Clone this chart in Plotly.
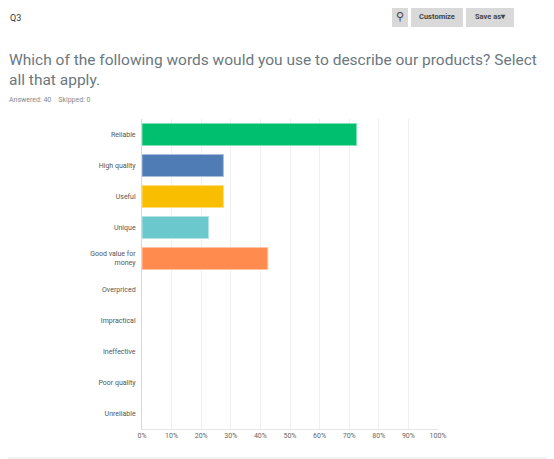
import plotly.graph_objects as go

categories = ["Reliable", "High quality", "Useful", "Unique", "Good value for<br>money",
              "Overpriced", "Impractical", "Ineffective", "Poor quality", "Unreliable"]
values = [72.5, 27.5, 27.5, 22.5, 42.5, 0, 0, 0, 0, 0]
colors = ["#00bf6f", "#507cb6", "#f9be00", "#6bc8cd", "#ff8b4f",
          "#00bf6f", "#507cb6", "#f9be00", "#6bc8cd", "#ff8b4f"]
borders = ["#7fdfb7", "#a7bdda", "#fcde7f", "#b5e3e6", "#ffc5a7",
           "#7fdfb7", "#a7bdda", "#fcde7f", "#b5e3e6", "#ffc5a7"]
tick_vals = list(range(0, 101, 10))
tick_text = [f"{v}%" for v in tick_vals]

fig = go.Figure(go.Bar(
    x=values, y=categories, orientation="h",
    marker=dict(color=colors, line=dict(color=borders, width=[1 if v > 0 else 0 for v in values])),
    hoverinfo="x+y",
))

F = "Roboto, Open Sans, sans-serif"
fig.update_layout(
    width=554, height=459,
    margin=dict(l=134, r=124, t=111, b=38),
    paper_bgcolor="white", plot_bgcolor="white",
    bargap=0.29, showlegend=False,
    font=dict(family=F, size=7, color="#666"),
    xaxis=dict(range=[0, 100], tickvals=tick_vals, ticktext=tick_text,
               showgrid=True, gridcolor="#efefef", gridwidth=1, zeroline=False,
               showline=True, linecolor="#e6e6e6", tickfont=dict(size=7, color="#666"),
               fixedrange=True),
    yaxis=dict(categoryorder="array", categoryarray=categories, autorange="reversed",
               showline=True, linecolor="#d8d8d8", ticks="", ticklabelstandoff=4,
               tickfont=dict(size=7, color="#555"), fixedrange=True),
    shapes=[
        dict(type="rect", xref="paper", yref="paper", x0=-142/296, x1=(296+114)/296,
             y0=-29/310, y1=(310+118)/310, line=dict(color="#e4e4e4", width=1)),
        dict(type="rect", xref="paper", yref="paper", x0=(392-142)/296, x1=(408-142)/296,
             y0=(429-27)/310, y1=(429-8)/310, fillcolor="#d9d9d9", line=dict(width=0)),
        dict(type="rect", xref="paper", yref="paper", x0=(411-142)/296, x1=(463-142)/296,
             y0=(429-27)/310, y1=(429-8)/310, fillcolor="#d9d9d9", line=dict(width=0)),
        dict(type="rect", xref="paper", yref="paper", x0=(466-142)/296, x1=(514-142)/296,
             y0=(429-27)/310, y1=(429-8)/310, fillcolor="#d9d9d9", line=dict(width=0)),
    ],
)

def px(x, y):
    return (x - 142) / 296, (429 - y) / 310

ann = []
def add(text, x, y, size, color, xanchor="left", bold=False):
    ax, ay = px(x, y)
    ann.append(dict(text=f"<b>{text}</b>" if bold else text, x=ax, y=ay, xref="paper", yref="paper",
                    xanchor=xanchor, yanchor="middle", showarrow=False, align="left",
                    font=dict(family=F, size=size, color=color)))

add("Q3", 8, 18, 9, "#333")
add("⚲", 400, 17, 11, "#444", "center")
add("Customize", 437, 17, 7.5, "#444", "center", True)
add("Save as▾", 490, 17, 7.5, "#444", "center", True)
add("Which of the following words would you use to describe our products? Select<br>all that apply.",
    7, 70, 15.5, "#6b787f")
add("Answered: 40&nbsp;&nbsp;&nbsp;&nbsp;Skipped: 0", 7, 100, 7, "#888")
fig.update_layout(annotations=ann)

fig.write_html("out.html")
